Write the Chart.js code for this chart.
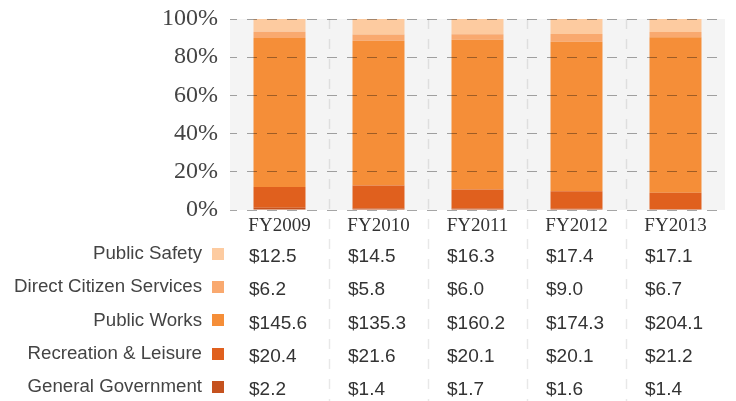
<!DOCTYPE html>
<html>
<head>
<meta charset="utf-8">
<script src="https://cdn.jsdelivr.net/npm/chart.js@4/dist/chart.umd.min.js"></script>
<style>
  html, body { margin: 0; padding: 0; background: #fff; }
  #wrap { width: 736px; height: 401px; }
</style>
</head>
<body>
<div id="wrap"><canvas id="budget"></canvas></div>
<script>
// fiscal years and spending ($ millions)
var years = ['FY2009', 'FY2010', 'FY2011', 'FY2012', 'FY2013'];
var publicSafety = [12.5, 14.5, 16.3, 17.4, 17.1];
var directCitizen = [6.2, 5.8, 6.0, 9.0, 6.7];
var publicWorks = [145.6, 135.3, 160.2, 174.3, 204.1];
var recreation = [20.4, 21.6, 20.1, 20.1, 21.2];
var generalGov = [2.2, 1.4, 1.7, 1.6, 1.4];
var yTicks = [0, 20, 40, 60, 80, 100];

// bottom -> top of each stack
var series = [
  { label: 'General Government', values: generalGov, color: '#c5521f' },
  { label: 'Recreation & Leisure', values: recreation, color: '#e0601e' },
  { label: 'Public Works', values: publicWorks, color: '#f58e38' },
  { label: 'Direct Citizen Services', values: directCitizen, color: '#f9a96f' },
  { label: 'Public Safety', values: publicSafety, color: '#fdcba0' }
];

var totals = years.map(function(y, i) {
  return series.reduce(function(s, d) { return s + d.values[i]; }, 0);
});

var serif = '"Liberation Serif", "Times New Roman", serif';
var sans = '"Liberation Sans", Arial, sans-serif';

var plotBg = {
  id: 'plotBg',
  beforeDraw: function(chart) {
    var a = chart.chartArea, ctx = chart.ctx;
    ctx.save();
    ctx.fillStyle = '#f4f4f4';
    ctx.fillRect(a.left, a.top, a.right - a.left, a.bottom - a.top);
    ctx.restore();
  }
};

// vertical separators + data table under the axis
var table = {
  id: 'table',
  afterDraw: function(chart) {
    var ctx = chart.ctx, x = chart.scales.x, a = chart.chartArea;
    var step = x.getPixelForValue(1) - x.getPixelForValue(0);
    ctx.save();
    ctx.strokeStyle = 'rgba(0,0,0,0.09)';
    ctx.lineWidth = 1.5;
    ctx.setLineDash([10, 10]);
    for (var i = 1; i < years.length; i++) {
      var sx = Math.round(x.getPixelForValue(i) - step / 2) + 0.5;
      ctx.beginPath();
      ctx.moveTo(sx, a.top);
      ctx.lineTo(sx, chart.height);
      ctx.stroke();
    }
    ctx.setLineDash([]);

    var rows = series.slice().reverse();
    rows.forEach(function(d, r) {
      var cy = a.bottom + 44 + r * 33.2;
      ctx.font = '18.7px ' + sans;
      ctx.textBaseline = 'middle';
      ctx.textAlign = 'right';
      ctx.fillStyle = '#444';
      ctx.fillText(d.label, 202, cy);
      ctx.fillStyle = d.color;
      ctx.fillRect(212, Math.round(cy - 6), 12, 12);
      ctx.textAlign = 'left';
      ctx.fillStyle = '#333';
      ctx.font = '19px ' + sans;
      d.values.forEach(function(v, i) {
        var cx = x.getPixelForValue(i) - step / 2 + 19;
        ctx.fillText('$' + v.toFixed(1), cx, cy + 3);
      });
    });
    ctx.restore();
  }
};

new Chart(document.getElementById('budget').getContext('2d'), {
  type: 'bar',
  data: {
    labels: years,
    datasets: series.map(function(d) {
      return {
        label: d.label,
        data: d.values.map(function(v, i) { return v / totals[i] * 100; }),
        backgroundColor: d.color,
        borderWidth: 0,
        categoryPercentage: 0.525,
        barPercentage: 1
      };
    })
  },
  options: {
    responsive: true,
    maintainAspectRatio: false,
    animation: false,
    layout: { padding: { top: 19, right: 11, left: 0, bottom: 0 } },
    plugins: { legend: { display: false }, tooltip: { enabled: false } },
    scales: {
      x: {
        stacked: true,
        grid: { display: false, drawTicks: false },
        border: { display: false },
        ticks: { color: '#333', font: { family: serif, size: 19 }, padding: 5 },
        afterFit: function(s) { s.height = 191; }
      },
      y: {
        stacked: true,
        min: 0,
        max: 100,
        afterBuildTicks: function(s) { s.ticks = yTicks.map(function(v) { return { value: v }; }); },
        afterFit: function(s) { s.width = 230; s.paddingTop = 0; s.paddingBottom = 0; },
        grid: {
          color: 'rgba(0,0,0,0.35)',
          lineWidth: 1,
          drawTicks: false,
          z: 1
        },
        border: { display: false, dash: [10, 10], dashOffset: 3 },
        ticks: {
          color: '#444',
          padding: 12,
          font: { family: serif, size: 24 },
          callback: function(v) { return v + '%'; }
        }
      }
    }
  },
  plugins: [plotBg, table]
});
</script>
</body>
</html>
